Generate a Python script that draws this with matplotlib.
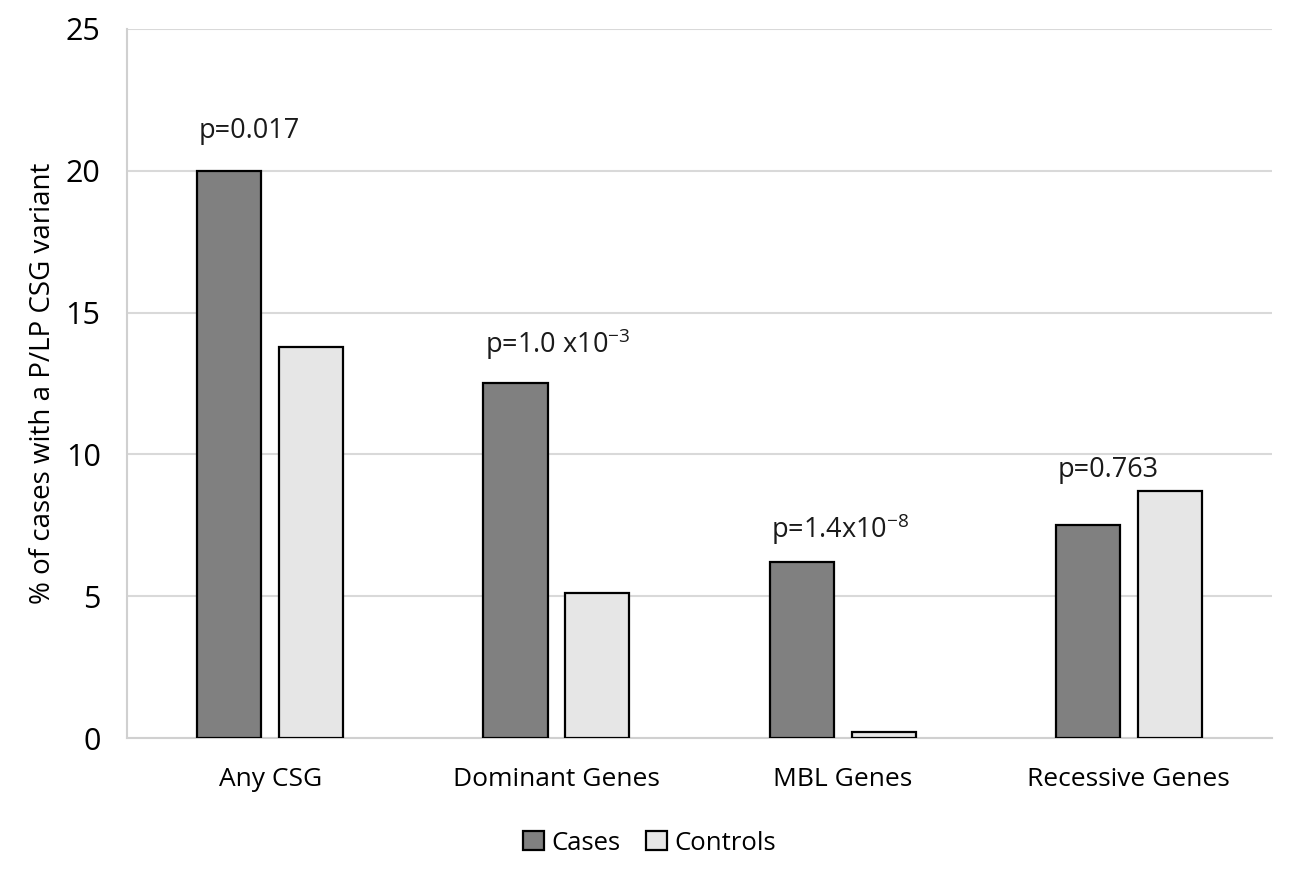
import matplotlib.pyplot as plt
import numpy as np

categories = ['Any CSG', 'Dominant Genes', 'MBL Genes', 'Recessive Genes']
cases = [20.0, 12.5, 6.2, 7.5]
controls = [13.8, 5.1, 0.2, 8.7]
p_labels = ['p=0.017', r'p=1.0 x10$^{\mathregular{-3}}$',
            r'p=1.4x10$^{\mathregular{-8}}$', 'p=0.763']
p_label_y = [21.4, 13.9, 7.35, 9.45]

plt.rcParams['font.family'] = ['Open Sans', 'DejaVu Sans']
plt.rcParams['mathtext.fontset'] = 'custom'
plt.rcParams['mathtext.rm'] = 'Open Sans'

fig = plt.figure(figsize=(12.99, 8.76), dpi=100, facecolor='white')
ax = fig.add_axes([0.0978, 0.1575, 0.8814, 0.8095])

x = np.arange(len(categories))
w = 0.224
off = 0.143

ax.bar(x - off, cases, w, color='#808080', edgecolor='black', linewidth=1.6,
       label='Cases', zorder=3)
ax.bar(x + off, controls, w, color='#e6e6e6', edgecolor='black', linewidth=1.6,
       label='Controls', zorder=3)

# p-values above each group
for i, (txt, yy) in enumerate(zip(p_labels, p_label_y)):
    ax.text(x[i] - 0.25, yy, txt, ha='left', va='center', fontsize=19.5,
            color='#1a1a1a')

ax.set_xlim(-0.5, 3.5)
ax.set_ylim(0, 25)
ax.set_yticks([0, 5, 10, 15, 20, 25])
ax.set_xticks(x)
ax.set_xticklabels(categories, fontsize=19)
ax.tick_params(axis='y', labelsize=22, length=0, pad=19)
ax.tick_params(axis='x', length=0, pad=21)
ax.grid(axis='y', color='#d9d9d9', linewidth=1.5, zorder=0)
for s in ['top', 'right']:
    ax.spines[s].set_visible(False)
for s in ['left', 'bottom']:
    ax.spines[s].set_color('#d0d0d0')
    ax.spines[s].set_linewidth(1.5)

ax.set_ylabel('% of cases with a P/LP CSG variant', fontsize=20, labelpad=6)

fig.legend(loc='lower center', bbox_to_anchor=(0.5, -0.003), ncol=2,
           frameon=False, fontsize=18.5, handlelength=0.8, handleheight=0.8,
           handletextpad=0.3, columnspacing=1.0)

fig.savefig('out.png', dpi=100, facecolor='white')
